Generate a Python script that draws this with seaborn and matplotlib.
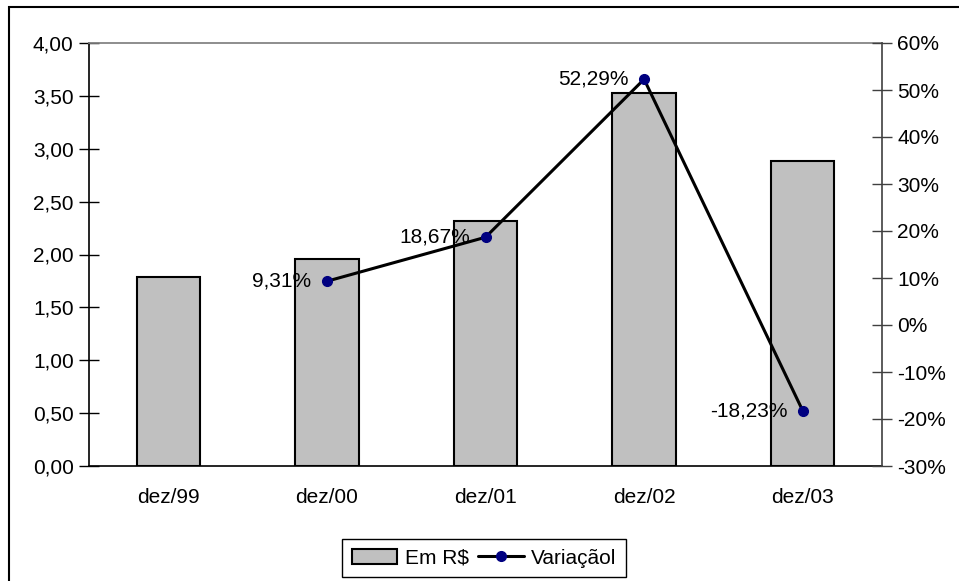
"""Bar + line chart: value in R$ and yearly variation."""
import matplotlib
matplotlib.use("Agg")
import matplotlib.pyplot as plt
import numpy as np
import pandas as pd
import seaborn as sns
from matplotlib.lines import Line2D
from matplotlib.patches import Patch, Rectangle
from matplotlib.ticker import FixedLocator, FuncFormatter

sns.set_theme(style="white")
plt.rcParams["font.family"] = ["Liberation Sans", "DejaVu Sans"]
plt.rcParams.update({"text.color": "black", "xtick.color": "black",
                     "ytick.color": "black", "axes.labelcolor": "black"})

periods = ["dez/99", "dez/00", "dez/01", "dez/02", "dez/03"]
values_brl = [1.787, 1.953, 2.318, 3.530, 2.886]
variation_periods = ["dez/00", "dez/01", "dez/02", "dez/03"]
variation_pct = [9.31, 18.67, 52.29, -18.23]

FS = 15


def main() -> None:
    df = pd.DataFrame({"periodo": periods, "valor": values_brl})

    fig = plt.figure(figsize=(9.59, 5.81), dpi=100)
    ax = fig.add_axes([89 / 959, 1 - 466 / 581, (882 - 89) / 959, (466 - 43) / 581])

    sns.barplot(data=df, x="periodo", y="valor", color="#C0C0C0", saturation=1,
                edgecolor="black", linewidth=1.5, width=0.4, ax=ax)
    ax.set_xlim(-0.5, len(periods) - 0.5)
    ax.set_ylim(0, 4)
    ax.set_yticks(np.arange(0, 4.01, 0.5))
    ax.yaxis.set_major_formatter(FuncFormatter(lambda v, _: f"{v:.2f}".replace(".", ",")))
    ax.set_xlabel("")
    ax.set_ylabel("")
    ax.tick_params(axis="y", direction="inout", length=14, width=1, colors="black",
                   labelsize=FS, pad=4)
    ax.tick_params(axis="x", which="major", length=0, labelsize=FS, pad=16,
                   labelcolor="black")
    ax.xaxis.set_minor_locator(FixedLocator(np.arange(-0.5, len(periods), 1.0)))
    ax.tick_params(axis="x", which="minor", direction="inout", length=14, width=1,
                   color="black")
    for side in ["left", "bottom"]:
        ax.spines[side].set_color("black")
        ax.spines[side].set_linewidth(1.2)
    ax.spines["top"].set_color("#808080")
    ax.spines["right"].set_visible(False)
    ax.grid(False)

    ax2 = ax.twinx()
    xpos = [periods.index(p) for p in variation_periods]
    ax2.plot(xpos, variation_pct, color="black", linewidth=2.2, marker="o",
             markersize=7, markerfacecolor="#000080", markeredgecolor="#000080")
    ax2.set_ylim(-30, 60)
    ax2.set_yticks(np.arange(-30, 61, 10))
    ax2.yaxis.set_major_formatter(FuncFormatter(lambda v, _: f"{v:.0f}%"))
    ax2.tick_params(axis="y", direction="inout", length=14, width=1, color="#404040",
                    labelcolor="black", labelsize=FS, pad=4)
    for side in ["left", "top", "bottom"]:
        ax2.spines[side].set_visible(False)
    ax2.spines["right"].set_color("#404040")
    ax2.spines["right"].set_linewidth(1.2)
    ax2.grid(False)

    for x, v in zip(xpos, variation_pct):
        ax2.annotate(f"{v:.2f}".replace(".", ",") + "%", (x, v), xytext=(-11, 0),
                     textcoords="offset points", ha="right", va="center", fontsize=FS,
                     color="black")

    handles = [
        Patch(facecolor="#C0C0C0", edgecolor="black", linewidth=1.5, label="Em R$"),
        Line2D([], [], color="black", linewidth=2.2, marker="o", markersize=7,
               markerfacecolor="#000080", markeredgecolor="#000080", label="Variaçãol"),
    ]
    fig.legend(handles=handles, loc="lower center", bbox_to_anchor=(484 / 959, 4 / 581),
               ncol=2, fontsize=FS, frameon=True, fancybox=False, edgecolor="black",
               framealpha=1, handlelength=2.2, handletextpad=0.35, columnspacing=0.45,
               borderpad=0.45, borderaxespad=0)

    # outer chart border (runs past the right and bottom edges)
    fig.patches.append(Rectangle((9 / 959, -0.05), 1.0, 1 - 7 / 581 + 0.05,
                                 transform=fig.transFigure, fill=False,
                                 edgecolor="black", linewidth=1.5))

    fig.savefig("out.png", dpi=100)
    plt.close(fig)


if __name__ == "__main__":
    main()
